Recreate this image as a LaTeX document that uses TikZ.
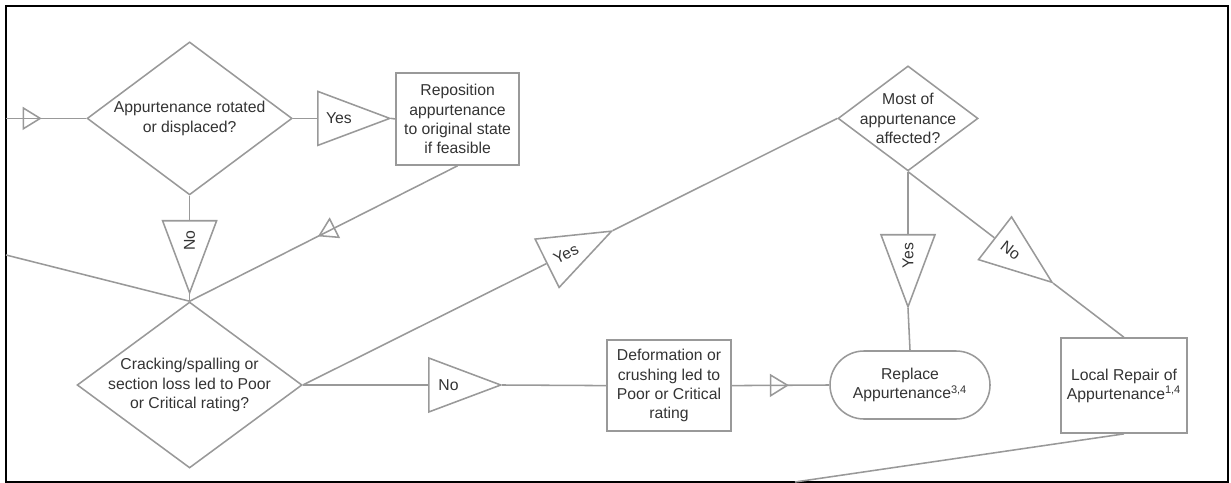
\documentclass[tikz,border=0pt]{standalone}
\usepackage{fontspec}
\setmainfont{Liberation Sans}
\usetikzlibrary{arrows.meta,shapes.geometric,decorations.markings}

\begin{document}
\begin{tikzpicture}[every node/.style={font=\fontsize{11.2}{13.6}\selectfont, text=black!80, align=center},
        wire/.style={draw=black!40, line width=1.1pt},
        decision/.style={wire, diamond, inner sep=0pt},
        process/.style={wire, rectangle, inner sep=0pt},
        tag/.style={wire, isosceles triangle, isosceles triangle stretches, isosceles triangle apex angle=67, inner sep=0pt, minimum width=1.35cm, minimum height=1.8cm, anchor=lower side},
        pointdown/.style={rotate=90, shape border rotate=180},
        midarrow/.style={postaction={decorate}, decoration={markings, mark=at position #1 with {\arrow{Triangle[open, length=0.475cm, width=0.575cm]}}}}]
        \useasboundingbox (0,0) rectangle (30.775,-12.075);
        \draw[line width=1.4pt] (0.15,-0.15) rectangle (30.7,-12.05);

        % decisions
        \node[decision, minimum width=5.125cm, minimum height=3.825cm, label={center:Appurtenance rotated\\or displaced?}] (rot) at (4.74,-2.96) {};
        \node[decision, minimum width=5.625cm, minimum height=4.15cm, label={center:Cracking/spalling or\\section loss led to Poor\\or Critical rating?}] (crack) at (4.74,-9.625) {};
        \node[decision, minimum width=3.5cm, minimum height=2.625cm, label={center:Most of\\appurtenance\\affected?}] (most) at (22.7,-2.96) {};

        % actions
        \node[process, minimum width=3.075cm, minimum height=2.3cm] (repo) at (11.44,-2.975) {Reposition\\appurtenance\\to original state\\if feasible};
        \node[process, minimum width=3.1cm, minimum height=2.275cm] (deform) at (16.725,-9.64) {Deformation or\\crushing led to\\Poor or Critical\\rating};
        \node[process, rounded corners=0.85cm, minimum width=4cm, minimum height=1.7cm] (replace) at (22.75,-9.625) {Replace\\Appurtenance\textsuperscript{3,4}};
        \node[process, minimum width=3.15cm, minimum height=2.375cm] (local) at (28.1,-9.64) {Local Repair of\\Appurtenance\textsuperscript{1,4}};

        % yes / no tags
        \node[tag] (yesrepo) at (7.925,-2.96) {Yes};
        \node[tag, pointdown] (norot) at (4.74,-5.5) {No};
        \node[tag, rotate=26.45] (yescrack) at (13.66,-6.59) {Yes};
        \node[tag] (nocrack) at (10.7,-9.625) {No};
        \node[tag, pointdown] (yesmost) at (22.7,-5.85) {Yes};
        \node[tag, rotate=-37.7] (nomost) at (24.86,-5.945) {No};

        \coordinate (entry) at (0.15,-2.96);
        \coordinate (side) at (0.15,-6.375);
        \coordinate (exit) at (19.875,-12.05);

        % connectors
        \draw[wire, midarrow=0.444] (entry) -- (rot.west);
        \draw[wire] (rot.east) -- (yesrepo.lower side);
        \draw[wire] (yesrepo.apex) -- (repo.west);
        \draw[wire] (rot.south) -- (norot.lower side);
        \draw[wire] (norot.apex) -- (crack.north);
        \draw[wire, midarrow=0.521] (repo.south) -- (crack.north);
        \draw[wire] (side) -- (crack.north);
        \draw[wire] (crack.east) -- (yescrack.lower side);
        \draw[wire] (yescrack.apex) -- (most.west);
        \draw[wire] (crack.east) -- (nocrack.lower side);
        \draw[wire] (nocrack.apex) -- (deform.west);
        \draw[wire, midarrow=0.586] (deform.east) -- (replace.west);
        \draw[wire] (most.south) -- (yesmost.lower side);
        \draw[wire] (yesmost.apex) -- (replace.north);
        \draw[wire] (most.south) -- (nomost.lower side);
        \draw[wire] (nomost.apex) -- (local.north);
        \draw[wire] (local.south) -- (exit);
    \end{tikzpicture}
\end{document}
